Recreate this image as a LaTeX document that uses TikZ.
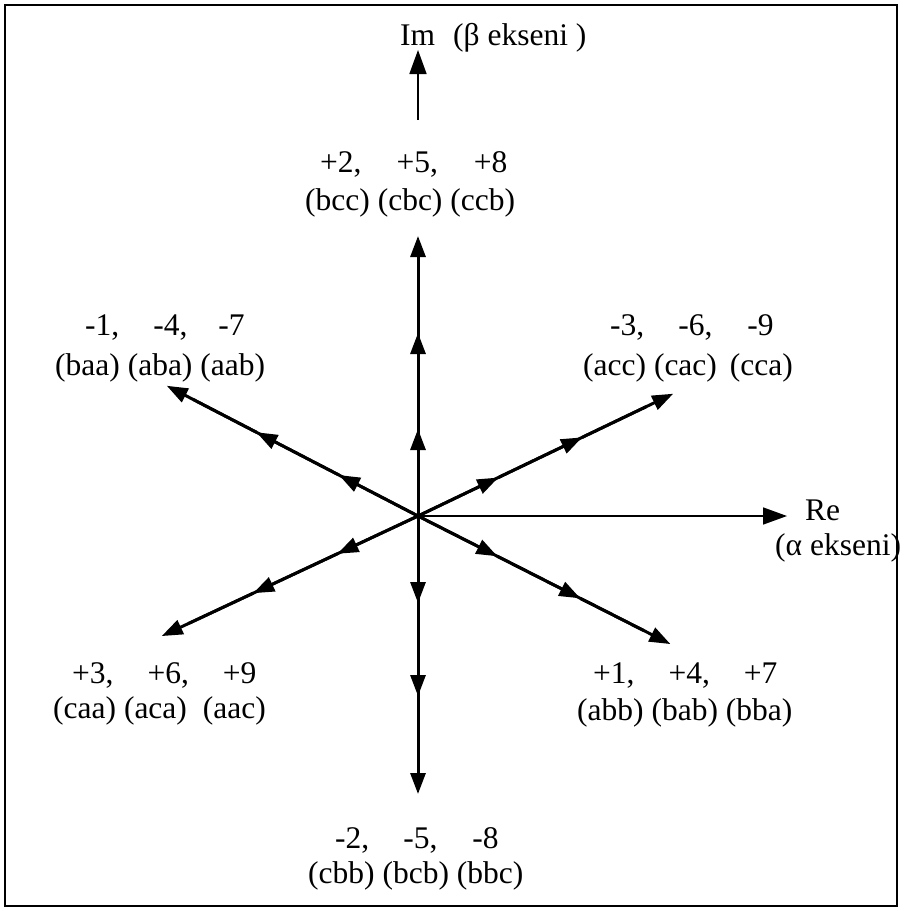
\documentclass[tikz,border=0pt]{standalone}
\usepackage{fontspec}
\setmainfont{Liberation Serif}
\usetikzlibrary{arrows.meta,calc}
\newcommand\gp{\hspace{34pt}}
\begin{document}
\begin{tikzpicture}[x=1pt,y=-1pt,
  vec/.style={line width=3pt,-{Triangle[length=21pt,width=15pt]}},
  vecline/.style={line width=3pt},
  axisline/.style={line width=1.6pt,-{Triangle[length=24pt,width=17pt]}},
  lbl/.style={inner sep=0pt,anchor=base west,font=\fontsize{31.5}{38}\selectfont}]
\useasboundingbox (0,0) rectangle (902,911);
\draw[line width=2pt] (5,5) rectangle (897,906);
\coordinate (O) at (418,516);
\foreach \nm/\ang/\da/\db/\dc in {u/90/87/180/278, d/-90/87/183/280, ur/26.9/89/182/283, ul/154.9/89/182/283, dl/207.4/89/182/283, dr/-25.6/89/182/283}{
  \coordinate (\nm1) at ($(O)+(\ang:\da)$);
  \coordinate (\nm2) at ($(O)+(\ang:\db)$);
  \coordinate (\nm3) at ($(O)+(\ang:\dc)$);
  \coordinate (\nm4) at ($(O)+(\ang:\dc-30)$);
  \draw[vecline] (O) -- (\nm4);
  \draw[vec] (O) -- (\nm1);
  \draw[vec] (\nm1) -- (\nm2);
  \draw[vec] (\nm2) -- (\nm3);
}
% axes
\coordinate (re) at (787,516);
\draw[axisline] (O) -- (re);
\coordinate (imA) at (418,120);
\coordinate (imB) at (418,50);
\draw[axisline] (imA) -- (imB);
\node[lbl] (imlbl) at (400,45) {Im\hspace{18pt}(β ekseni )};
\node[lbl] (relbl) at (805,520) {Re};
\node[lbl] (albl) at (775,555) {(α ekseni)};
% top
\node[lbl] (t1) at (320,172) {+2,\hspace{35pt}+5,\hspace{36pt}+8};
\node[lbl] (t2) at (305,210) {(bcc) (cbc) (ccb)};
% top-left
\node[lbl] (tl1) at (85,335) {-1,\gp-4,\hspace{31pt}-7};
\node[lbl] (tl2) at (55,375) {(baa) (aba) (aab)};
% top-right
\node[lbl] (tr1) at (610,335) {-3,\gp-6,\hspace{35pt}-9};
\node[lbl] (tr2) at (583,375) {(acc) (cac)\hspace{13pt}(cca)};
% bottom-left
\node[lbl] (bl1) at (72,683) {+3,\gp+6,\gp+9};
\node[lbl] (bl2) at (53,718) {(caa) (aca)\hspace{16pt}(aac)};
% bottom-right
\node[lbl] (br1) at (593,683) {+1,\gp+4,\gp+7};
\node[lbl] (br2) at (577,720) {(abb) (bab) (bba)};
% bottom
\node[lbl] (b1) at (335,848) {-2,\gp-5,\hspace{35pt}-8};
\node[lbl] (b2) at (308,883) {(cbb) (bcb) (bbc)};
\end{tikzpicture}
\end{document}
